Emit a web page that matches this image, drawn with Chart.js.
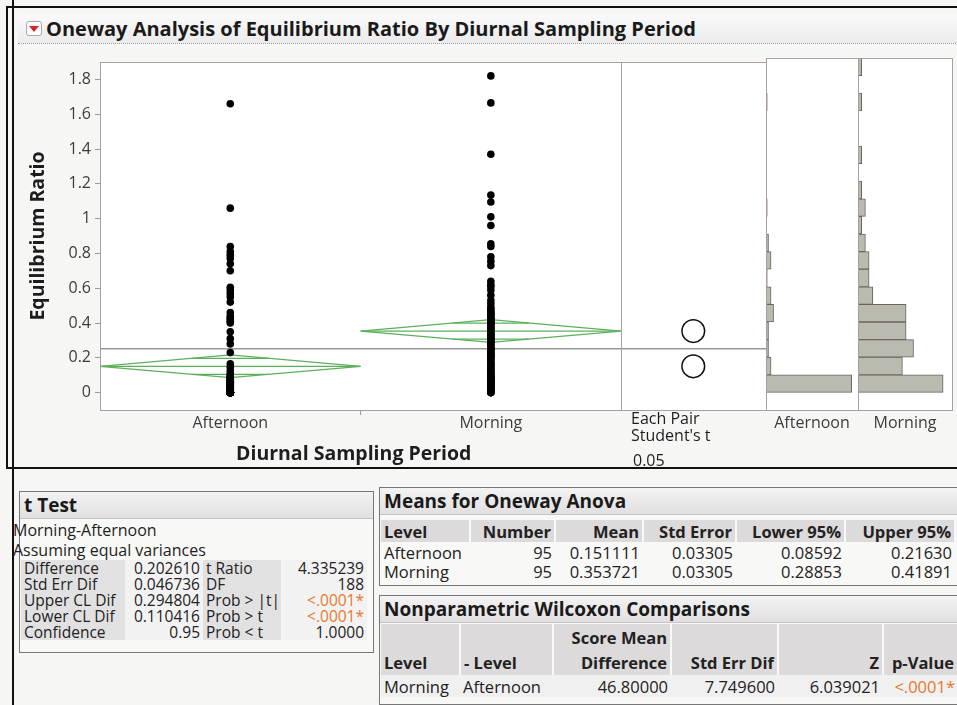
<!DOCTYPE html>
<html>
<head>
<meta charset="utf-8">
<title>Oneway Analysis of Equilibrium Ratio By Diurnal Sampling Period</title>
<script src="https://cdn.jsdelivr.net/npm/chart.js@4.4.0/dist/chart.umd.min.js"></script>
<style>
  body{margin:0;width:957px;height:705px;overflow:hidden;background:#f6f6f5;font-family:"Open Sans",sans-serif;color:#1e1e1e;position:relative}
  .abs{position:absolute;white-space:nowrap}
  canvas{position:absolute}
  .box{position:absolute;border:1px solid #777;background:#f8f8f7;overflow:hidden}
  .btitle{height:26px;background:linear-gradient(#f4f3f3,#e1dfdf);border-bottom:1px solid #c4c2c2;font-weight:700;font-size:19px;line-height:26px;padding-left:4px;color:#1a1a1a}
  table{border-collapse:collapse;table-layout:fixed;color:#222}
  td{padding:0 3px;white-space:nowrap;overflow:visible}
  .r{text-align:right}
  .lab{background:#e2e1e1}
  .val{background:#f3f2f2}
  .hd td{background:#dcdada;font-weight:700;border-right:2px solid #f8f8f8}
  .org{color:#e5792d}
</style>
</head>
<body>
<!-- report frame -->
<div class="abs" style="left:12px;top:0;width:2px;height:705px;background:#111"></div>
<div class="abs" style="left:6px;top:6px;width:960px;height:459px;border:2px solid #111;border-right:none"></div>
<div class="abs" style="left:18px;top:14px;width:950px;height:29px;background:linear-gradient(#fafafa,#ecebeb);border-bottom:1px dotted #9a9a9a"></div>
<div class="abs" style="left:26px;top:21px;width:14px;height:13px;border:1px solid #a9a9a9;border-radius:3px;background:#fff"></div>
<div class="abs" style="left:29px;top:26px;width:0;height:0;border-left:5px solid transparent;border-right:5px solid transparent;border-top:6px solid #d8262b"></div>
<div class="abs" style="left:46px;top:14px;font-weight:700;font-size:20px;line-height:29px;color:#1a1a1a">Oneway Analysis of Equilibrium Ratio By Diurnal Sampling Period</div>

<canvas id="mainPlot" width="760" height="420" style="left:18px;top:50px"></canvas>
<canvas id="histA" width="104" height="420" style="left:760px;top:50px"></canvas>
<canvas id="histM" width="112" height="420" style="left:852px;top:50px"></canvas>

<div class="abs" style="left:236px;top:440px;font-weight:700;font-size:19.5px;line-height:26px">Diurnal Sampling Period</div>
<div class="abs" style="left:631px;top:410px;font-size:16px;line-height:17px">Each Pair<br>Student's t</div>
<div class="abs" style="left:633px;top:452px;font-size:16px;line-height:17px">0.05</div>

<!-- t Test -->
<div class="box" style="left:19px;top:491px;width:353px;height:160px">
  <div class="btitle">t Test</div>
</div>
<div class="abs" style="left:13px;top:520px;font-size:16px;line-height:20px">Morning-Afternoon</div>
<div class="abs" style="left:13px;top:540px;font-size:16px;line-height:20px">Assuming equal variances</div>
<table class="abs" style="left:21px;top:560px;width:346px;font-size:15.5px;line-height:16px">
  <colgroup><col style="width:104px"><col style="width:78px"><col style="width:78px"><col style="width:86px"></colgroup>
  <tr style="height:16px"><td class="lab">Difference</td><td class="val r">0.202610</td><td class="lab">t Ratio</td><td class="val r">4.335239</td></tr>
  <tr style="height:16px"><td class="lab">Std Err Dif</td><td class="val r">0.046736</td><td class="lab">DF</td><td class="val r">188</td></tr>
  <tr style="height:16px"><td class="lab">Upper CL Dif</td><td class="val r">0.294804</td><td class="lab">Prob &gt; |t|</td><td class="val r org">&lt;.0001*</td></tr>
  <tr style="height:16px"><td class="lab">Lower CL Dif</td><td class="val r">0.110416</td><td class="lab">Prob &gt; t</td><td class="val r org">&lt;.0001*</td></tr>
  <tr style="height:16px"><td class="lab">Confidence</td><td class="val r">0.95</td><td class="lab">Prob &lt; t</td><td class="val r">1.0000</td></tr>
</table>

<!-- Means for Oneway Anova -->
<div class="box" style="left:379px;top:487px;width:590px;height:97px">
  <div class="btitle">Means for Oneway Anova</div>
</div>
<table class="abs" style="left:381px;top:520px;width:574px;font-size:16.5px;line-height:19px">
  <colgroup><col style="width:89px"><col style="width:85px"><col style="width:88px"><col style="width:93px"><col style="width:109px"><col style="width:110px"></colgroup>
  <tr class="hd" style="height:22px"><td>Level</td><td class="r">Number</td><td class="r">Mean</td><td class="r">Std Error</td><td class="r">Lower 95%</td><td class="r">Upper 95%</td></tr>
  <tr style="height:20px"><td>Afternoon</td><td class="r">95</td><td class="r">0.151111</td><td class="r">0.03305</td><td class="r">0.08592</td><td class="r">0.21630</td></tr>
  <tr style="height:19px"><td>Morning</td><td class="r">95</td><td class="r">0.353721</td><td class="r">0.03305</td><td class="r">0.28853</td><td class="r">0.41891</td></tr>
</table>

<!-- Nonparametric Wilcoxon Comparisons -->
<div class="box" style="left:379px;top:595px;width:590px;height:108px">
  <div class="btitle">Nonparametric Wilcoxon Comparisons</div>
</div>
<table class="abs" style="left:381px;top:624px;width:577px;font-size:16.5px;line-height:19px">
  <colgroup><col style="width:79px"><col style="width:93px"><col style="width:118px"><col style="width:107px"><col style="width:105px"><col style="width:75px"></colgroup>
  <tr class="hd" style="height:26px"><td></td><td></td><td class="r">Score Mean</td><td></td><td></td><td></td></tr>
  <tr class="hd" style="height:25px"><td>Level</td><td>- Level</td><td class="r">Difference</td><td class="r">Std Err Dif</td><td class="r">Z</td><td class="r">p-Value</td></tr>
  <tr style="height:22px;background:#f1f0f0"><td>Morning</td><td>Afternoon</td><td class="r">46.80000</td><td class="r">7.749600</td><td class="r">6.039021</td><td class="r org">&lt;.0001*</td></tr>
</table>

<script>
// ---- data ----
const groups = ['Afternoon', 'Morning'];
const groupMeans = [0.151111, 0.353721];
const lower95 = [0.08592, 0.28853];
const upper95 = [0.21630, 0.41891];
const yTickValues = [0, 0.2, 0.4, 0.6, 0.8, 1, 1.2, 1.4, 1.6, 1.8];

const afternoonValues = [
  0,0,0,0,0,0,0,0,0,0, 0,0,0,0,0,0,0,0,0,0, 0,0,0,0,0,0,0,0,0,0, 0,0,0,0,0,0,0,0,0,0,
  0.003,0.005,0.01,0.01,0.015,0.02,0.02,0.025,0.03,0.03,0.035,0.04,0.04,0.045,0.05,0.05,0.055,
  0.06,0.06,0.065,0.07,0.072,0.075,0.08,0.085,0.09,0.093,0.098,
  0.11,0.125,0.145,0.165,
  0.23,0.28,
  0.31,0.35,
  0.40,0.41,0.42,0.43,0.44,0.46,
  0.52,0.55,0.57,0.59,
  0.605,
  0.70,0.74,0.77,0.79,
  0.81,0.84,
  1.06,
  1.66
];
const morningValues = [
  0,0,0,0.01,0.015,0.02,0.025,0.03,0.035,0.04,0.045,0.05,0.05,0.055,0.06,0.065,0.07,0.075,0.08,0.085,0.09,0.093,0.097,
  0.105,0.11,0.12,0.125,0.13,0.14,0.15,0.155,0.165,0.17,0.18,0.19,
  0.2,0.205,0.21,0.215,0.22,0.23,0.235,0.24,0.25,0.255,0.26,0.27,0.28,0.285,0.295,
  0.3,0.31,0.315,0.32,0.33,0.335,0.34,0.35,0.36,0.37,0.375,0.385,0.395,
  0.4,0.405,0.41,0.42,0.425,0.43,0.44,0.45,0.455,0.46,0.47,0.48,0.49,
  0.51,0.53,0.56,0.59,
  0.61,0.62,0.64,
  0.73,0.755,0.78,
  0.84,0.855,
  0.96,
  1.01,1.095,
  1.135,
  1.37,
  1.665,
  1.82
];

// histogram bins (0.1 wide): centres and counts
const binCenters = [0.05,0.15,0.25,0.35,0.45,0.55,0.65,0.75,0.85,0.95,1.05,1.15,1.25,1.35,1.45,1.55,1.65,1.75,1.85];
const afternoonCounts = [68,4,2,2,6,4,1,4,2,0,1,0,0,0,0,0,1,0,0];
const morningCounts   = [23,12,15,13,13,4,3,3,2,1,2,1,0,1,0,0,1,0,1];

// ---- shared styling ----
const FONT = '"Open Sans", sans-serif';
const FRAME = '#aa9f9f';
const GREEN = '#5cb05c';
const Y_MIN = -0.1, Y_MAX = 1.9;
const X_MAX = 2.556;          // two group slots plus the comparison-circle panel
const CIRCLE_X = 2.277;

// white plot background, panel border and panel dividers
const panelFrame = {
  id: 'panelFrame',
  beforeDraw(chart) {
    const a = chart.chartArea, c = chart.ctx;
    c.save(); c.fillStyle = '#fff'; c.fillRect(a.left, a.top, a.right - a.left, a.bottom - a.top); c.restore();
  },
  afterDraw(chart, args, opts) {
    const a = chart.chartArea, c = chart.ctx;
    c.save();
    c.strokeStyle = FRAME; c.lineWidth = 1;
    c.strokeRect(Math.round(a.left) + 0.5, Math.round(a.top) + 0.5, Math.round(a.right - a.left), Math.round(a.bottom - a.top));
    (opts.dividers || []).forEach(v => {
      const x = Math.round(chart.scales.x.getPixelForValue(v)) + 0.5;
      c.beginPath(); c.moveTo(x, a.top); c.lineTo(x, a.bottom); c.stroke();
    });
    c.restore();
  }
};

function seg(x0, y0, x1, y1, color, width, order) {
  return { type: 'scatter', showLine: true, data: [{x: x0, y: y0}, {x: x1, y: y1}],
           borderColor: color, borderWidth: width, pointRadius: 0, order: order };
}

const datasets = [];
// raw observations
[afternoonValues, morningValues].forEach((vals, g) => {
  datasets.push({ type: 'scatter', data: vals.map(v => ({x: g + 0.5, y: v})),
    pointRadius: 3.8, backgroundColor: '#000', borderWidth: 0, order: 0 });
});
// means diamonds with overlap marks
groups.forEach((name, g) => {
  const m = groupMeans[g], lo = lower95[g], hi = upper95[g];
  const c = g + 0.5;
  datasets.push({ type: 'scatter', showLine: true, order: 1, pointRadius: 0, borderColor: GREEN, borderWidth: 1.3,
    data: [{x: g, y: m}, {x: c, y: hi}, {x: g + 1, y: m}, {x: c, y: lo}, {x: g, y: m}] });
  datasets.push(seg(g, m, g + 1, m, GREEN, 1.3, 1));
  const h = (hi - m) / Math.SQRT2;
  const d = 0.5 * (1 - 1 / Math.SQRT2);
  datasets.push(seg(c - d, m + h, c + d, m + h, GREEN, 1.3, 1));
  datasets.push(seg(c - d, m - h, c + d, m - h, GREEN, 1.3, 1));
});
// comparison circles: radius = 95% half-width on the y scale
groups.forEach((name, g) => {
  const half = upper95[g] - groupMeans[g];
  datasets.push({ type: 'scatter', order: 0, data: [{x: CIRCLE_X, y: groupMeans[g]}],
    pointStyle: 'circle', backgroundColor: 'rgba(0,0,0,0)', borderColor: '#111', borderWidth: 1.5,
    pointRadius: ctx => { const s = ctx.chart.scales.y; return Math.abs(s.getPixelForValue(half) - s.getPixelForValue(0)); } });
});
// grand mean
const grandMean = (groupMeans[0] + groupMeans[1]) / 2;
datasets.push(seg(0, grandMean, X_MAX, grandMean, '#9b9797', 1.4, 2));

Chart.defaults.font.family = FONT;
Chart.defaults.color = '#3c3c3c';

new Chart(document.getElementById('mainPlot'), {
  type: 'scatter',
  data: { datasets },
  plugins: [panelFrame],
  options: {
    responsive: false, animation: false, events: [],
    layout: { padding: { left: 0, right: 12, top: 0, bottom: 0 } },
    plugins: { legend: { display: false }, tooltip: { enabled: false }, panelFrame: { dividers: [2] } },
    scales: {
      x: {
        type: 'linear', min: 0, max: X_MAX,
        afterFit: s => { s.height = 60; },
        afterBuildTicks: s => { s.ticks = [{value: 0.5}, {value: 1}, {value: 1.5}]; },
        ticks: { autoSkip: false, maxRotation: 0, padding: 0, font: { size: 16, lineHeight: 1.1 }, color: '#3c3c3c',
                 callback: v => v === 0.5 ? groups[0] : (v === 1.5 ? groups[1] : '') },
        grid: { drawOnChartArea: false, tickLength: 5, color: c => (c.tick && c.tick.value === 1) ? '#9a9a9a' : 'rgba(0,0,0,0)' },
        border: { display: false }
      },
      y: {
        type: 'linear', min: Y_MIN, max: Y_MAX,
        afterFit: s => { s.width = 82; },
        afterBuildTicks: s => { s.ticks = yTickValues.map(v => ({value: v})); },
        ticks: { padding: 4, font: { size: 16, lineHeight: 1 }, color: '#3c3c3c', callback: v => String(Number(v.toFixed(1))) },
        grid: { drawOnChartArea: false, tickLength: 5, color: '#9a9a9a' },
        border: { display: false },
        title: { display: true, text: 'Equilibrium Ratio', font: { size: 19.5, weight: 'bold' }, color: '#1c1c1c', padding: { top: 9, bottom: 0 } }
      }
    }
  }
});

function histogram(id, label, counts, maxCount, padRight) {
  new Chart(document.getElementById(id), {
    type: 'bar',
    data: { datasets: [{
      data: counts.map((n, i) => ({x: n, y: binCenters[i]})),
      backgroundColor: '#b8bbad', borderColor: '#6e6262',
      borderWidth: c => (c.raw && c.raw.x > 0) ? 1 : 0, borderSkipped: false,
      barPercentage: 1, categoryPercentage: 1
    }] },
    plugins: [panelFrame],
    options: {
      indexAxis: 'y', responsive: false, animation: false, events: [],
      layout: { padding: { left: 6, right: padRight, top: 8, bottom: 0 } },
      plugins: { legend: { display: false }, tooltip: { enabled: false }, panelFrame: {} },
      scales: {
        x: { type: 'linear', min: 0, max: maxCount,
             afterFit: s => { s.height = 60; },
             afterBuildTicks: s => { s.ticks = [{value: maxCount / 2}]; },
             ticks: { autoSkip: false, maxRotation: 0, padding: 5, font: { size: 16, lineHeight: 1.1 }, color: '#3c3c3c', callback: () => label },
             grid: { display: false, drawTicks: false }, border: { display: false } },
        y: { type: 'linear', min: Y_MIN, max: Y_MAX, display: false, offset: false, grid: { offset: false } }
      }
    }
  });
}
histogram('histA', groups[0], afternoonCounts, 73, 6);
histogram('histM', groups[1], morningCounts, 25.4, 12);
</script>
</body>
</html>
